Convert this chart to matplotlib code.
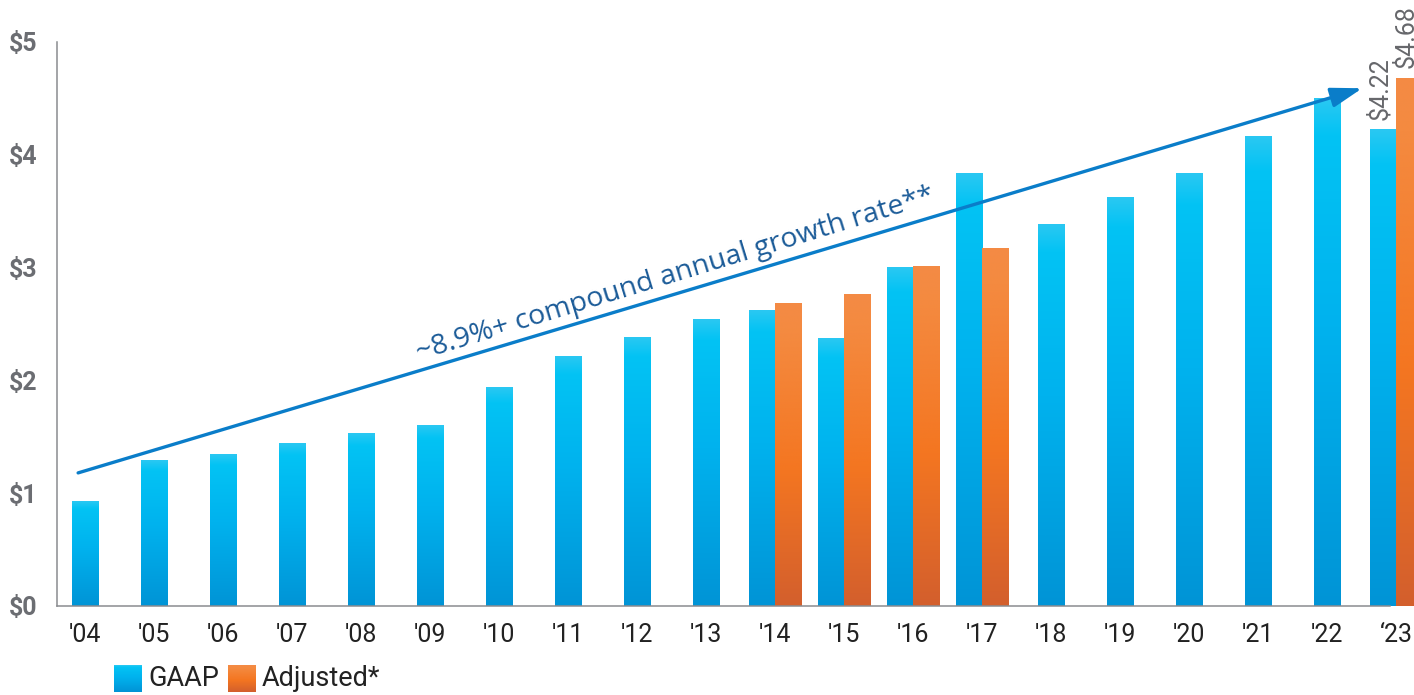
import matplotlib
matplotlib.use("Agg")
import matplotlib.pyplot as plt
import numpy as np
from matplotlib.colors import LinearSegmentedColormap

years = ["'04", "'05", "'06", "'07", "'08", "'09", "'10", "'11", "'12", "'13",
         "'14", "'15", "'16", "'17", "'18", "'19", "'20", "'21", "'22", "\u201823"]
gaap_eps = [0.93, 1.29, 1.34, 1.44, 1.53, 1.60, 1.94, 2.21, 2.38, 2.54,
            2.62, 2.37, 3.00, 3.83, 3.38, 3.62, 3.83, 4.16, 4.50, 4.22]
adjusted_years = ["'14", "'15", "'16", "'17", "\u201823"]
adjusted_eps = [2.68, 2.76, 3.01, 3.17, 4.68]
y_ticks = [0, 1, 2, 3, 4, 5]
last_labels = ["$4.22", "$4.68"]
cagr_text = "~8.9%+ compound annual growth rate**"
legend_names = ["GAAP", "Adjusted*"]

# trend arrow, in data units
arrow_start = (-0.10, 1.18)
arrow_end = (18.51, 4.59)

blue_cmap = LinearSegmentedColormap.from_list(
    "blue", [(0, "#0094d6"), (0.55, "#00b2ee"), (0.93, "#03c3f4"), (1, "#2ac8f2")])
orange_cmap = LinearSegmentedColormap.from_list(
    "orange", [(0, "#d35f2d"), (0.45, "#f47621"), (0.9, "#f48a40"), (1, "#f48b45")])

BAR_W = 0.377
FONT = "Roboto"


def gradient_fill(ax, patches, cmap):
    grad = np.linspace(0, 1, 256).reshape(-1, 1)
    for p in patches:
        x0, y0 = p.get_xy()
        ax.imshow(grad, extent=[x0, x0 + p.get_width(), y0, y0 + p.get_height()],
                  origin="lower", cmap=cmap, aspect="auto", zorder=2,
                  interpolation="bicubic")


fig = plt.figure(figsize=(14.14, 6.95), dpi=100)
ax = fig.add_axes([57 / 1414, 1 - 606 / 695, 1 - 57 / 1414, (606 - 42) / 695])

x = np.arange(len(years))
has_adj = np.array([y in adjusted_years for y in years])
gaap_x = np.where(has_adj, x - BAR_W / 2, x)
adj_x = np.array([years.index(y) + BAR_W / 2 for y in adjusted_years])

gaap_bars = ax.bar(gaap_x, gaap_eps, width=BAR_W, color="none", zorder=2)
adj_bars = ax.bar(adj_x, adjusted_eps, width=BAR_W, color="none", zorder=2)
gradient_fill(ax, gaap_bars, blue_cmap)
gradient_fill(ax, adj_bars, orange_cmap)

# value labels on the latest year
for bx, val, lab in [(gaap_x[-1], gaap_eps[-1], last_labels[0]),
                     (adj_x[-1], adjusted_eps[-1], last_labels[1])]:
    ax.annotate(lab, (bx, val), xytext=(-2, 7), textcoords="offset points",
                rotation=90, ha="center", va="bottom", fontsize=18,
                family=FONT, color="#66676b", annotation_clip=False)

ax.annotate("", xy=arrow_end, xytext=arrow_start,
            arrowprops=dict(arrowstyle="-|>,head_length=0.95,head_width=0.3",
                            mutation_scale=20, color="#0a7dc9", lw=2.4,
                            shrinkA=0, shrinkB=0), zorder=4)
ax.text(8.55, 2.94, cagr_text, rotation=17, rotation_mode="anchor",
        ha="center", va="center", fontsize=20.5, family="Open Sans",
        color="#1b5b98", zorder=5)

ax.set_xlim(-0.406, 19.26)
ax.set_ylim(0, 5)
ax.set_xticks(x)
ax.set_xticklabels(years, fontsize=18, family=FONT, color="#222222")
ax.set_yticks(y_ticks)
ax.set_yticklabels([f"${v}" for v in y_ticks], fontsize=18, family=FONT,
                   fontweight="bold", color="#6b6d72")
ax.tick_params(axis="both", length=0)
ax.tick_params(axis="x", pad=12)
ax.tick_params(axis="y", pad=14)

for side in ["top", "right"]:
    ax.spines[side].set_visible(False)
for side in ["left", "bottom"]:
    ax.spines[side].set_color("#8a8c90")
    ax.spines[side].set_linewidth(1.1)
ax.spines["bottom"].set_bounds(-0.406, 18.91)

# legend with gradient swatches
grad = np.linspace(0, 1, 64).reshape(-1, 1)
for left, cmap, name, tx in [(114, blue_cmap, legend_names[0], 148),
                             (228, orange_cmap, legend_names[1], 262)]:
    sw = fig.add_axes([left / 1414, 1 - 692 / 695, 28 / 1414, 27 / 695])
    sw.imshow(grad, origin="lower", cmap=cmap, aspect="auto")
    sw.axis("off")
    fig.text(tx / 1414, 1 - 679 / 695, name, fontsize=19.5, family=FONT,
             color="#222222", va="center", ha="left")

fig.savefig("out.png", dpi=100)
